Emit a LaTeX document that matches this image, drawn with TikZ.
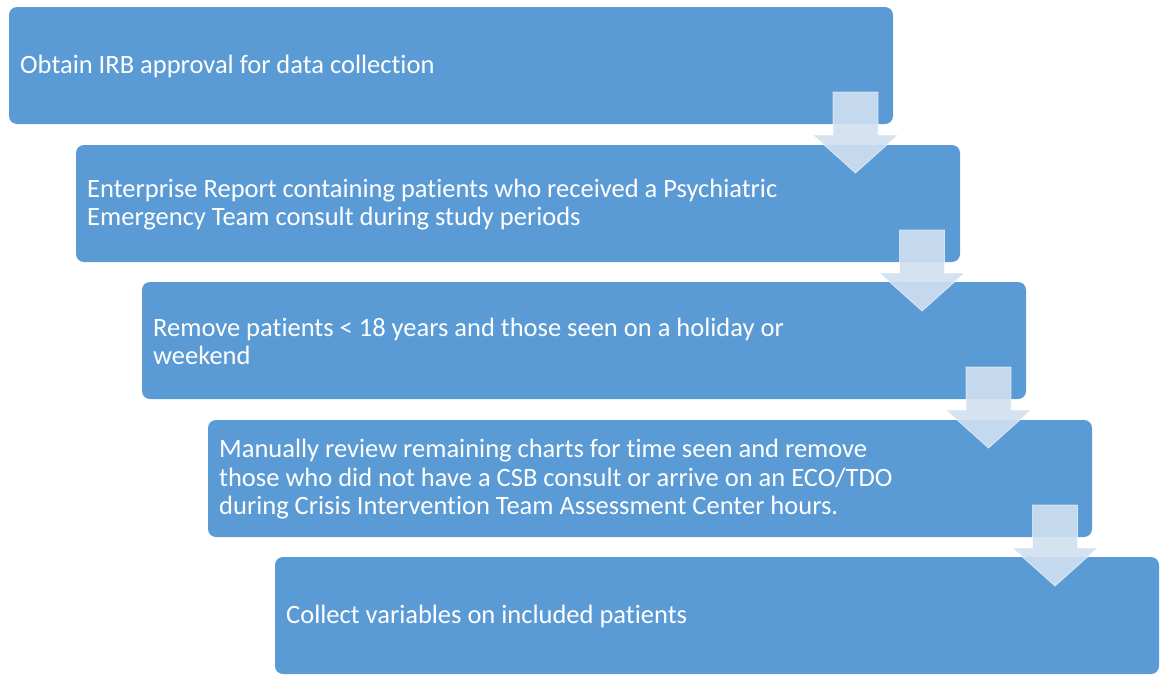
\documentclass[tikz,border=0pt]{standalone}
\usepackage{fontspec}
\setmainfont[Ligatures={NoCommon}]{Carlito}
\begin{document}
\begin{tikzpicture}[x=1pt,y=-1pt,
  stepbox/.style={fill={rgb,255:red,91;green,155;blue,213}, rounded corners=8pt},
  steptext/.style={anchor=west, text=white, align=left, font=\fontsize{26.5}{28.5}\selectfont, inner sep=0pt},
  downarrow/.style={fill={rgb,255:red,208;green,224;blue,240}, fill opacity=0.9,
    draw=white, draw opacity=0.6, line width=0.8pt}]
\useasboundingbox (0,0) rectangle (1166,675);
% stepped boxes
\foreach \i/\x/\y in {1/9/7, 2/76/145, 3/142/282, 4/208/420, 5/275/557}{
  \path[stepbox] (\x,\y) rectangle ++(884,117);
  \coordinate (b\i) at (\x+11,\y+59.5);
}
\node[steptext] (t1) at (b1) {Obtain IRB approval for data collection};
\node[steptext] (t2) at (b2) {Enterprise Report containing patients who received a Psychiatric\\Emergency Team consult during study periods};
\node[steptext] (t3) at (b3) {Remove patients < 18 years and those seen on a holiday or\\weekend};
\node[steptext] (t4) at (b4) {Manually review remaining charts for time seen and remove\\those who did not have a CSB consult or arrive on an ECO/TDO\\during Crisis Intervention Team Assessment Center hours.};
\node[steptext] (t5) at (b5) {Collect variables on included patients};
% down arrows between steps
\foreach \x/\y in {855.5/92, 922/230, 988.5/367, 1055/505}{
  \path[downarrow] (\x-22.5,\y) -- (\x+22.5,\y) -- (\x+22.5,\y+43) -- (\x+42.5,\y+43)
    -- (\x,\y+81) -- (\x-42.5,\y+43) -- (\x-22.5,\y+43) -- cycle;
}
\end{tikzpicture}
\end{document}
